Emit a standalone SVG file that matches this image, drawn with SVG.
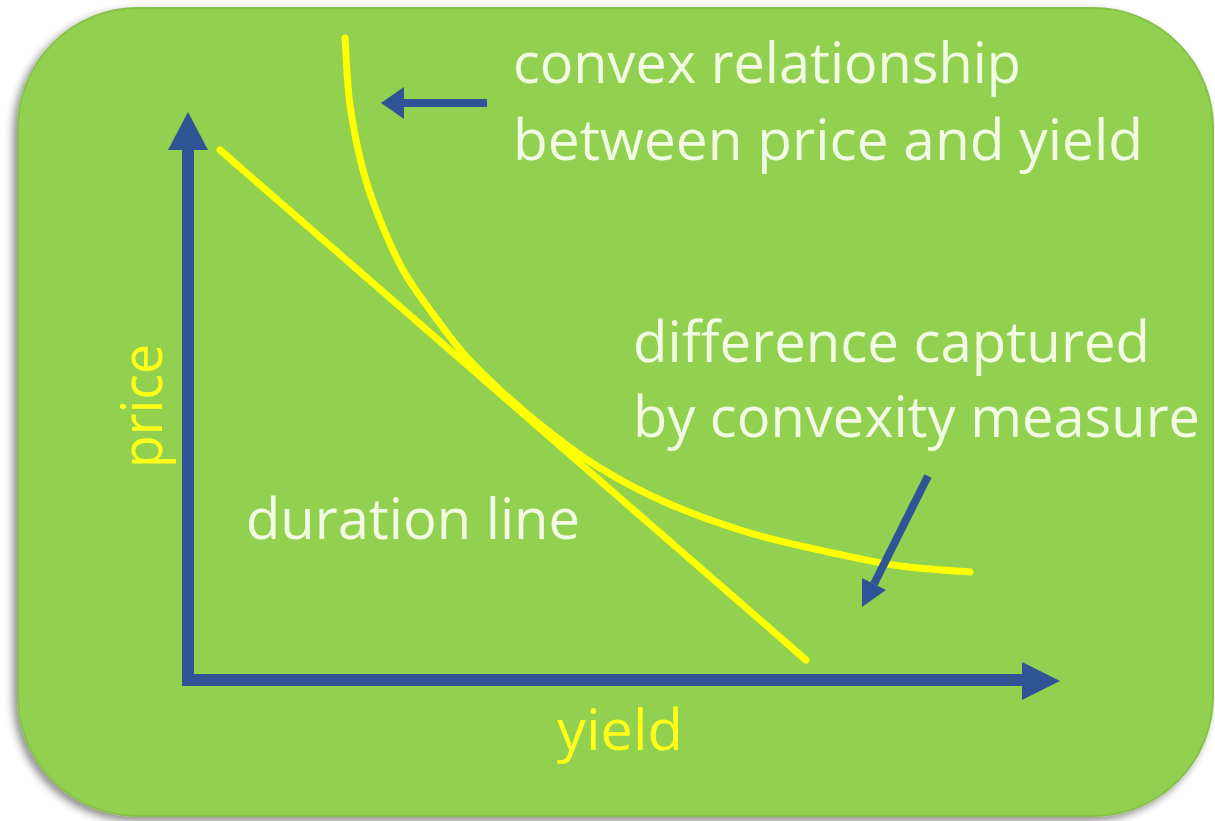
<svg xmlns="http://www.w3.org/2000/svg" width="1215" height="821" viewBox="0 0 1215 821">
  <defs>
    <filter id="shadow" x="-5%" y="-5%" width="110%" height="112%">
      <feGaussianBlur in="SourceAlpha" stdDeviation="4"/>
      <feOffset dx="-4" dy="4" result="b"/>
      <feComponentTransfer><feFuncA type="linear" slope="0.45"/></feComponentTransfer>
      <feMerge><feMergeNode/><feMergeNode in="SourceGraphic"/></feMerge>
    </filter>
  </defs>
  <style>
    .lbl { font-family: "Open Sans", "Noto Sans", "Liberation Sans", sans-serif; font-size: 56px; fill: #F1FAE2; }
    .axlbl { font-family: "Open Sans", "Noto Sans", "Liberation Sans", sans-serif; font-size: 56px; fill: #FFFF1A; }
    .axis { stroke: #2F5496; stroke-width: 12; fill: none; }
    .ptr { stroke: #2F5496; stroke-width: 8; fill: none; }
    .head { fill: #2F5496; }
    .curve { stroke: #FFFF00; stroke-width: 7; fill: none; stroke-linecap: round; stroke-linejoin: round; }
  </style>
  <rect width="1215" height="821" fill="#FFFFFF"/>
  <g id="panel">
    <rect x="18" y="8" width="1195" height="808" rx="120" ry="120" fill="#92D050" stroke="#86C14A" stroke-width="2" filter="url(#shadow)"/>
  </g>
  <g id="axes">
    <path class="axis" d="M188,148 L188,680 L1025,680"/>
    <polygon class="head" points="188,112 208,150 168,150"/>
    <polygon class="head" points="1060,681 1022,662 1022,700"/>
  </g>
  <g id="curves">
    <line id="duration-line" class="curve" x1="220" y1="150" x2="806" y2="660"/>
    <path id="convex-curve" class="curve" stroke-width="6" d="M345,38 C345.8,49.2 347,83 350,105 C353,127 358,150.8 363,170 C368,189.2 373.3,203.3 380,220 C386.7,236.7 394.7,255 403,270 C411.3,285 420,296.2 430,310 C440,323.8 451.3,339.7 463,353 C474.7,366.3 486,377.2 500,390 C514,402.8 530.3,417 547,430 C563.7,443 580,455.8 600,468 C620,480.2 642,492.2 667,503 C692,513.8 722.3,524.7 750,533 C777.7,541.3 808,547.5 833,553 C858,558.5 877.2,562.8 900,566 C922.8,569.2 958.3,571 970,572"/>
  </g>
  <g id="connectors">
    <line class="ptr" x1="487" y1="103" x2="400" y2="103"/>
    <polygon class="head" points="381,103 404,87 404,119"/>
    <line class="ptr" x1="928" y1="476" x2="874" y2="584"/>
    <polygon class="head" points="862,607 862,578 886,590"/>
  </g>
  <g id="texts">
    <text class="lbl" x="513" y="83" textLength="508" lengthAdjust="spacingAndGlyphs">convex relationship</text>
    <text class="lbl" x="513" y="160" textLength="630" lengthAdjust="spacingAndGlyphs">between price and yield</text>
    <text class="lbl" x="633" y="362" textLength="517" lengthAdjust="spacingAndGlyphs">difference captured</text>
    <text class="lbl" x="633" y="437" textLength="567" lengthAdjust="spacingAndGlyphs">by convexity measure</text>
    <text class="lbl" x="246" y="539" textLength="334" lengthAdjust="spacingAndGlyphs">duration line</text>
    <text class="axlbl" x="557" y="750" textLength="126" lengthAdjust="spacingAndGlyphs">yield</text>
    <text class="axlbl" transform="translate(162,468) rotate(-90)" x="0" y="0" textLength="124" lengthAdjust="spacingAndGlyphs">price</text>
  </g>
</svg>
